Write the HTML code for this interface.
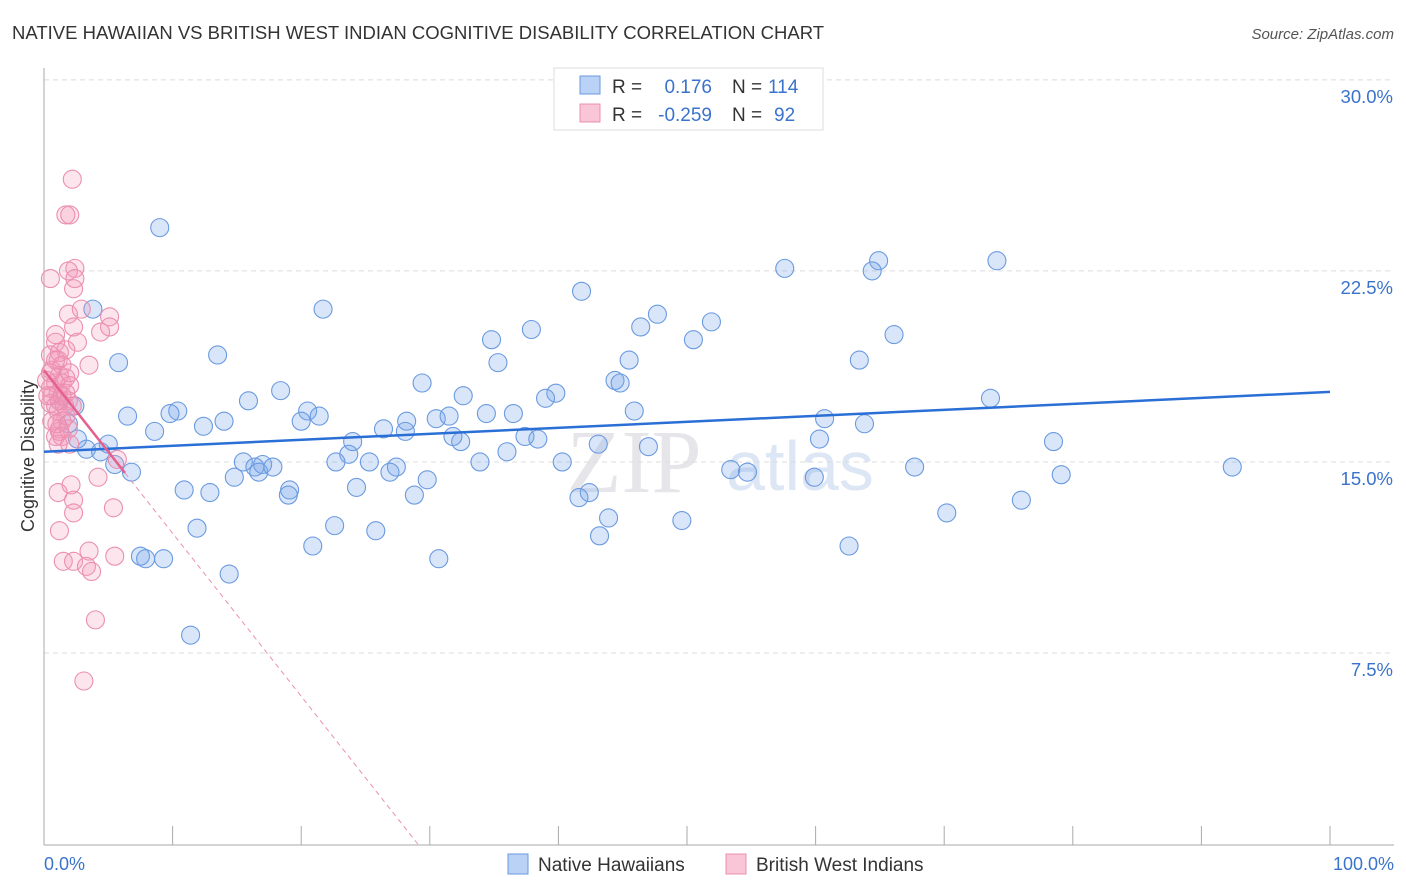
<!DOCTYPE html>
<html><head><meta charset="utf-8"><style>
body{margin:0;background:#fff;font-family:"Liberation Sans",sans-serif;}
svg{display:block}
</style></head><body>
<svg id="chart" width="1406" height="892">
<text x="12" y="39" font-size="18.5" fill="#333">NATIVE HAWAIIAN VS BRITISH WEST INDIAN COGNITIVE DISABILITY CORRELATION CHART</text>
<text x="1394" y="39" font-size="15" fill="#555" font-style="italic" text-anchor="end">Source: ZipAtlas.com</text>
<text transform="translate(34,456) rotate(-90)" font-size="18" fill="#333" text-anchor="middle">Cognitive Disability</text>
<text x="634" y="492" font-size="90" fill="#e6e6ea" font-family="Liberation Serif,serif" text-anchor="middle">ZIP</text>
<text x="800" y="490" font-size="70" fill="#dde6f4" text-anchor="middle">atlas</text>
<g id="grid"></g><g id="axes"></g><g id="pts"></g><g id="trend"></g>
<g>
<rect x="554" y="68" width="269" height="62" fill="#fff" stroke="#ddd"/>
<rect x="580" y="76" width="20" height="18" fill="#b9d2f5" stroke="#6a9ae0"/>
<rect x="580" y="104" width="20" height="18" fill="#f9c6d7" stroke="#eb8fb0"/>
<text x="612" y="93" font-size="19" fill="#333">R =</text><text x="712" y="93" font-size="19" fill="#3a73cc" text-anchor="end">0.176</text>
<text x="732" y="93" font-size="19" fill="#333">N =</text><text x="768" y="93" font-size="19" fill="#3a73cc">114</text>
<text x="612" y="121" font-size="19" fill="#333">R =</text><text x="712" y="121" font-size="19" fill="#3a73cc" text-anchor="end">-0.259</text>
<text x="732" y="121" font-size="19" fill="#333">N =</text><text x="774" y="121" font-size="19" fill="#3a73cc">92</text>
</g>
<g>
<rect x="508" y="854" width="20" height="20" fill="#b9d2f5" stroke="#6a9ae0"/>
<text x="538" y="871" font-size="19" fill="#333">Native Hawaiians</text>
<rect x="726" y="854" width="20" height="20" fill="#f9c6d7" stroke="#eb8fb0"/>
<text x="756" y="871" font-size="19" fill="#333">British West Indians</text>
</g>
<text x="44" y="870" font-size="18" fill="#3a73cc">0.0%</text>
<text x="1394" y="870" font-size="18" fill="#3a73cc" text-anchor="end">100.0%</text>
</svg>
<script>
const blueX=[9.0,3.8,21.7,5.8,13.5,41.8,57.6,64.9,64.4,74.1,47.7,51.9,46.4,37.9,34.8,50.5,66.1,45.5,63.4,35.3,29.4,44.4,44.8,39.8,39.0,32.6,18.4,15.9,10.4,9.8,6.5,73.6,45.9,34.4,36.5,30.5,31.5,28.2,20.5,21.4,20.0,14.0,12.4,8.6,60.7,63.8,26.4,28.1,5.0,3.3,4.4,32.4,31.8,24.0,23.7,22.7,25.3,27.4,26.9,37.4,38.4,36.0,33.9,43.1,47.0,60.3,78.5,79.1,92.4,67.7,53.4,54.7,59.9,15.5,16.4,17.0,16.7,17.8,14.8,6.8,5.5,40.3,19.1,19.0,10.9,12.9,24.3,29.8,28.8,42.4,41.6,76.0,70.2,43.9,49.6,43.2,11.9,22.6,25.8,20.9,62.6,7.5,7.9,9.3,30.7,14.4,11.4,1.9,2.4,2.6,1.2];
const blueY=[24.2,21.0,21.0,18.9,19.2,21.7,22.6,22.9,22.5,22.9,20.8,20.5,20.3,20.2,19.8,19.8,20.0,19.0,19.0,18.9,18.1,18.2,18.1,17.7,17.5,17.6,17.8,17.4,17.0,16.9,16.8,17.5,17.0,16.9,16.9,16.7,16.8,16.6,17.0,16.8,16.6,16.6,16.4,16.2,16.7,16.5,16.3,16.2,15.7,15.5,15.4,15.8,16.0,15.8,15.3,15.0,15.0,14.8,14.6,16.0,15.9,15.4,15.0,15.7,15.6,15.9,15.8,14.5,14.8,14.8,14.7,14.6,14.4,15.0,14.8,14.9,14.6,14.8,14.4,14.6,14.9,15.0,13.9,13.7,13.9,13.8,14.0,14.3,13.7,13.8,13.6,13.5,13.0,12.8,12.7,12.1,12.4,12.5,12.3,11.7,11.7,11.3,11.2,11.2,11.2,10.6,8.2,16.5,17.2,15.9,17.4];
const pinkX=[0.5,2.2,1.7,2.0,2.4,1.9,2.4,2.3,1.9,2.9,5.1,5.1,4.4,2.3,0.9,0.9,2.6,1.2,1.7,3.5,0.5,1.1,1.4,0.6,1.2,1.7,0.9,1.4,0.5,2.0,1.1,1.7,0.6,1.2,1.9,0.5,0.9,1.6,2.2,1.1,1.7,1.4,1.2,1.9,0.9,1.4,2.0,1.1,1.2,5.7,4.2,2.1,1.1,2.3,5.4,2.3,1.2,3.5,1.5,2.3,3.3,5.5,3.7,4.0,3.1,0.5,0.9,1.4,2.0,0.6,1.0,0.2,0.3];
const pinkY=[22.2,26.1,24.7,24.7,22.6,22.5,22.2,21.8,20.8,21.0,20.7,20.3,20.1,20.3,20.0,19.7,19.7,19.3,19.4,18.8,19.2,19.0,18.8,18.6,18.4,18.3,18.1,18.1,17.9,18.0,17.7,17.7,17.6,17.4,17.4,17.3,17.2,17.2,17.2,17.0,16.8,16.6,16.3,16.3,16.0,16.0,15.7,15.7,16.2,15.1,14.4,14.1,13.8,13.5,13.2,13.0,12.3,11.5,11.1,11.1,10.9,11.3,10.7,8.8,6.4,18.5,19.0,17.6,18.5,16.6,16.5,18.2,17.6];
const yTicks=[7.5,15,22.5,30];
const xTicks=[0,10,20,30,40,50,60,70,80,90,100];
const blueTrend=[15.4,17.75];
const pinkTrend=[18.6,-0.64];
const X0=44,X1=1330,Y0=844,YS=25.47;
const sx=v=>X0+(X1-X0)*v/100, sy=v=>Y0-v*YS;
const NS="http://www.w3.org/2000/svg";
function mk(tag,attrs,parent){const e=document.createElementNS(NS,tag);for(const k in attrs)e.setAttribute(k,attrs[k]);document.getElementById(parent).appendChild(e);return e;}
yTicks.forEach(t=>{
 const l=mk('line',{x1:44,x2:1394,y1:sy(t),y2:sy(t),stroke:'#dcdcdc','stroke-dasharray':'5,4'},'grid');
 
 
 const tx=mk('text',{x:1393,y:sy(t)+23,'font-size':18.5,fill:'#3a73cc','text-anchor':'end'},'grid');
 tx.textContent=t.toFixed(1)+'%';
 
 
});
let ax=mk('line',{x1:44,x2:44,y1:68,y2:845,stroke:'#aaa'},'axes');


ax=mk('line',{x1:44,x2:1394,y1:845,y2:845,stroke:'#aaa'},'axes');


xTicks.forEach(t=>{
 const l=mk('line',{x1:sx(t),x2:sx(t),y1:826,y2:845,stroke:'#aaa'},'axes');
 
 
});
blueX.forEach((v,i)=>{
 const c=mk('circle',{cx:sx(v),cy:sy(blueY[i]),r:9,fill:'rgba(120,165,235,0.28)',stroke:'#6a9ae0','stroke-width':1.1},'pts');
 
 
});
pinkX.forEach((v,i)=>{
 const c=mk('circle',{cx:sx(v),cy:sy(pinkY[i]),r:9,fill:'rgba(245,150,185,0.25)',stroke:'#eb8fb0','stroke-width':1.1},'pts');
 
 
});
let tl=mk('line',{x1:sx(0),y1:sy(blueTrend[0]),x2:sx(100),y2:sy(blueTrend[1]),stroke:'#2a6fd6','stroke-width':2.5},'trend');


const pxEnd=6.3, pxZero=-pinkTrend[0]/pinkTrend[1];
tl=mk('line',{x1:sx(0),y1:sy(pinkTrend[0]),x2:sx(pxEnd),y2:sy(pinkTrend[0]+pinkTrend[1]*pxEnd),stroke:'#e5608f','stroke-width':2.5},'trend');


tl=mk('line',{x1:sx(pxEnd),y1:sy(pinkTrend[0]+pinkTrend[1]*pxEnd),x2:sx(pxZero),y2:sy(0),stroke:'#eb8fb0','stroke-width':1,'stroke-dasharray':'5,4'},'trend');


</script>
</body></html>
